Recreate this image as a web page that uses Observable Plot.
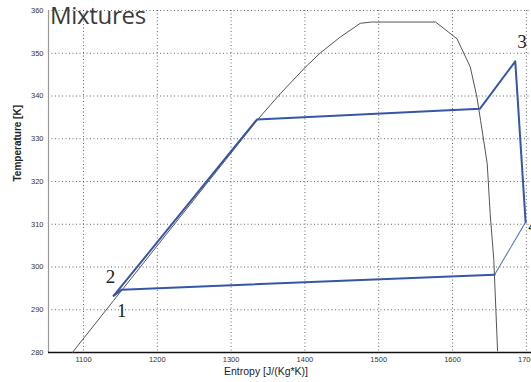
<!DOCTYPE html>
<html>
<head>
<meta charset="utf-8">
<script src="https://cdn.jsdelivr.net/npm/d3@7"></script>
<script src="https://cdn.jsdelivr.net/npm/@observablehq/plot@0.6"></script>
<style>
  html, body { margin: 0; padding: 0; background: #fff; overflow: hidden; }
  #wrap { position: relative; width: 531px; height: 382px; }
  #title { position: absolute; left: 50px; top: -2px; font-family: "Open Sans", sans-serif; font-size: 24px; color: #3a3a3a; letter-spacing: -0.3px; }
</style>
</head>
<body>
<div id="wrap">
  <div id="chart"></div>
  <div id="title">Mixtures</div>
</div>
<script>
// Axis ticks
const xTicks = [1100, 1200, 1300, 1400, 1500, 1600, 1700];
const yTicks = [280, 290, 300, 310, 320, 330, 340, 350, 360];
const xDomain = [1052.6, 1707];
const yDomain = [280, 360];

// Saturation dome (entropy, temperature)
const domeS = [1085, 1141, 1337, 1367, 1401, 1421, 1448, 1475, 1490, 1577, 1606, 1624, 1633, 1638, 1647, 1651, 1656, 1661];
const domeT = [280, 292.2, 334.7, 340.6, 346.8, 350.1, 353.8, 357.0, 357.3, 357.3, 353.4, 346.8, 339.8, 334.3, 324.2, 312.5, 301.5, 280.4];

// Cycle path (thick parts)
const cycleS = [1141, 1152, 1657];
const cycleT = [293.3, 294.7, 298.2];
const cycle2S = [1699, 1685, 1637, 1335, 1143, 1141];
const cycle2T = [310.5, 348.1, 337.0, 334.5, 293.7, 293.3];
// Thin segment
const thinS = [1657, 1699];
const thinT = [298.2, 310.5];

// State point labels
const labelNames = ["1", "2", "3", "4"];
const labelS = [1152, 1136.6, 1694, 1709];
const labelT = [289.8, 297.6, 352.6, 309.5];

const dome = domeS.map((s, i) => ({s, t: domeT[i]}));
const cyc1 = cycleS.map((s, i) => ({s, t: cycleT[i]}));
const cyc2 = cycle2S.map((s, i) => ({s, t: cycle2T[i]}));
const thin = thinS.map((s, i) => ({s, t: thinT[i]}));
const labels = labelNames.map((n, i) => ({n, s: labelS[i], t: labelT[i]}));

const blue = "#3656a6";

const chart = Plot.plot({
  width: 531,
  height: 382,
  marginLeft: 48,
  marginRight: 0,
  marginTop: 10,
  marginBottom: 30,
  style: {background: "#fff", fontFamily: "Arial, 'Liberation Sans', sans-serif"},
  x: {domain: xDomain, ticks: xTicks},
  y: {domain: yDomain, ticks: yTicks},
  marks: [
    Plot.gridX(xTicks, {stroke: "#333", strokeOpacity: 0.75, strokeDasharray: "1,2.5", strokeWidth: 1}),
    Plot.gridY(yTicks.filter(d => d > 280), {stroke: "#333", strokeOpacity: 0.75, strokeDasharray: "1,2.5", strokeWidth: 1}),
    Plot.ruleX([xDomain[0]], {stroke: "#999", strokeWidth: 1.2}),
    Plot.ruleY([yDomain[0]], {stroke: "#111", strokeWidth: 1.5}),
    Plot.axisX(xTicks, {tickSize: 0, tickPadding: 4, fontSize: 7.5, fill: "#333", label: null, tickFormat: d => String(d)}),
    Plot.axisY(yTicks, {tickSize: 0, tickPadding: 5, fontSize: 7.5, fill: "#333", label: null, tickFormat: d => String(d)}),
    Plot.line(dome, {x: "s", y: "t", stroke: "#555", strokeWidth: 1}),
    Plot.line(thin, {x: "s", y: "t", stroke: "#5a78c0", strokeWidth: 1.1}),
    Plot.line(cyc1, {x: "s", y: "t", stroke: blue, strokeWidth: 2}),
    Plot.line(cyc2, {x: "s", y: "t", stroke: blue, strokeWidth: 2}),
    Plot.text(labels, {x: "s", y: "t", text: "n", fontSize: 19, fontFamily: "'Liberation Serif', 'DejaVu Serif', serif", fill: "#222"}),
    Plot.text(["Temperature [K]"], {frameAnchor: "left", dx: -31, rotate: -90, fontSize: 10, fontWeight: "bold", fill: "#222"}),
    Plot.text(["Entropy [J/(Kg*K)]"], {frameAnchor: "bottom", dx: -24, dy: 22, fontSize: 10.5, fill: "#222"})
  ]
});
document.getElementById("chart").appendChild(chart);
</script>
</body>
</html>
